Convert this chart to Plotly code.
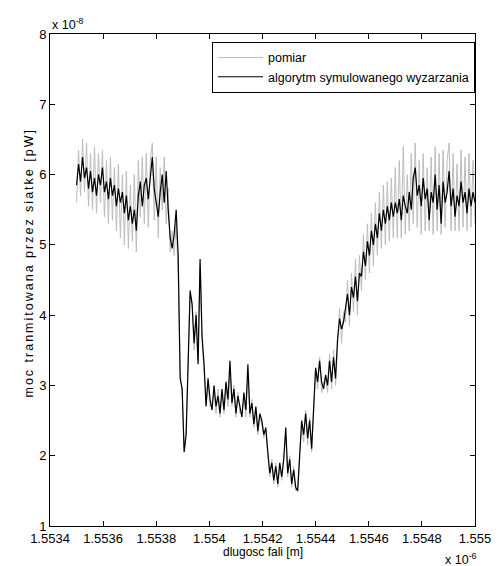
import numpy as np
import plotly.graph_objects as go

# wavelength grid in units of 1e-6 m (1.5535 .. 1.5550), 201 samples
wl_start = 1.5535
wl_end = 1.5550
n_pts = 201

# transmitted power, units of 1e-8 (black: simulated annealing fit)
algorytm = [
    5.85, 6.15, 5.9, 6.25, 5.95, 6.1, 5.8, 6.05, 5.75, 5.95,
    5.7, 6.0, 5.85, 6.1, 5.75, 5.9, 5.65, 5.95, 5.7, 5.85,
    5.55, 5.8, 5.6, 5.75, 5.45, 5.7, 5.35, 5.55, 5.3, 5.5,
    5.2, 5.7, 5.9, 5.55, 5.85, 5.95, 5.65, 6.0, 6.25, 5.8,
    5.6, 5.4, 5.75, 6.0, 5.6, 6.05, 5.5, 5.1, 4.95, 5.15,
    5.5, 4.85, 3.1, 2.95, 2.05, 2.3, 3.3, 4.35, 4.15, 3.6,
    4.0, 3.3, 4.8, 3.7, 3.3, 2.7, 3.1, 2.8, 2.65, 3.0,
    2.7, 2.85, 2.6, 2.95, 2.65, 3.05, 2.8, 3.35, 2.75, 2.95,
    2.6, 2.85, 2.7, 2.55, 2.9, 2.65, 3.3, 2.6, 2.75, 2.45,
    2.7, 2.35, 2.6, 2.5, 2.3, 2.4, 2.05, 1.75, 1.9, 1.65,
    1.85, 1.6, 1.9, 1.7, 1.95, 2.4, 1.75, 1.95, 1.6, 1.8,
    1.55, 1.5, 2.0, 2.5, 2.3, 2.6, 2.25, 2.5, 2.1, 2.65,
    3.25, 3.05, 3.35, 3.05, 2.95, 3.15, 3.0, 3.35, 3.05, 3.4,
    3.1, 3.65, 3.95, 3.8, 3.9, 4.1, 4.3, 4.0, 4.4, 4.25,
    4.55, 4.2, 4.6, 4.55, 4.9, 4.7, 5.05, 4.85, 5.2, 5.0,
    5.3, 5.1, 5.45, 5.2, 5.5, 5.3, 5.55, 5.35, 5.6, 5.4,
    5.6, 5.45, 5.65, 5.35, 5.7, 5.55, 5.45, 5.75, 5.5, 5.95,
    6.1, 5.7, 5.85, 5.55, 5.95, 5.65, 5.8, 5.35, 5.75, 5.6,
    6.0, 5.5, 5.85, 5.3, 5.9, 5.6, 5.75, 6.05, 5.55, 5.8,
    5.4, 5.7, 5.55, 5.9, 5.6, 5.75, 5.45, 5.8, 5.55, 5.75,
    5.6,
]

# measurement (grey)
pomiar = [
    5.6, 6.35, 5.7, 6.5, 5.75, 6.45, 5.55, 6.3, 5.5, 6.4,
    5.45, 6.3, 5.6, 6.35, 5.4, 6.2, 5.3, 6.25, 5.35, 6.1,
    5.2, 6.15, 5.1, 6.0, 5.0, 6.05, 4.95, 5.85, 5.05, 6.0,
    4.9, 6.2, 5.4, 6.25, 5.3, 6.3, 5.25, 6.2, 6.45, 5.35,
    6.25, 5.1, 6.1, 5.5, 6.25, 5.3, 5.8, 4.9, 5.2, 4.85,
    5.3, 4.6, 3.2, 2.9, 2.1, 2.4, 3.4, 4.3, 4.2, 3.5,
    4.05, 3.35, 4.7, 3.6, 3.2, 2.75, 3.05, 2.7, 2.75, 2.9,
    2.6, 2.95, 2.55, 2.9, 2.6, 3.0, 2.7, 3.2, 2.7, 3.0,
    2.55, 2.9, 2.6, 2.6, 2.8, 2.55, 3.15, 2.55, 2.8, 2.4,
    2.65, 2.3, 2.55, 2.45, 2.25, 2.35, 2.0, 1.7, 1.95, 1.6,
    1.9, 1.55, 1.85, 1.65, 2.0, 2.3, 1.7, 2.0, 1.55, 1.85,
    1.5, 1.55, 2.05, 2.4, 2.2, 2.65, 2.15, 2.55, 2.05, 2.7,
    3.2, 2.95, 3.4, 2.9, 3.05, 3.1, 2.9, 3.45, 2.95, 3.5,
    3.0, 3.55, 4.1, 3.6, 4.05, 3.9, 4.5, 3.85, 4.6, 4.05,
    4.8, 4.0, 4.85, 4.35, 5.15, 4.5, 5.3, 4.6, 5.45, 4.7,
    5.6, 4.85, 5.75, 4.95, 5.85, 5.0, 5.9, 5.05, 5.95, 5.1,
    6.1, 5.1, 6.2, 5.1, 6.4, 5.15, 6.0, 5.2, 6.3, 5.3,
    6.45, 5.25, 6.2, 5.15, 6.3, 5.2, 6.1, 5.2, 6.25, 5.15,
    6.4, 5.2, 6.3, 5.15, 6.35, 5.25, 6.2, 6.45, 5.2, 6.3,
    5.2, 6.15, 5.2, 6.35, 5.25, 6.25, 5.2, 6.3, 5.25, 6.2,
    5.3,
]

wavelength = np.linspace(wl_start, wl_end, n_pts)

x_tickvals = [1.5534, 1.5536, 1.5538, 1.5540, 1.5542, 1.5544, 1.5546, 1.5548, 1.5550]
x_ticktext = ["1.5534", "1.5536", "1.5538", "1.554", "1.5542", "1.5544", "1.5546", "1.5548", "1.555"]
y_tickvals = [1, 2, 3, 4, 5, 6, 7, 8]
y_ticktext = ["1", "2", "3", "4", "5", "6", "7", "8"]

FONT = "Liberation Sans, Arial, sans-serif"

fig = go.Figure()
fig.add_trace(go.Scatter(x=wavelength, y=pomiar, mode="lines", name="pomiar",
                         line=dict(color="#bdbdbd", width=1)))
fig.add_trace(go.Scatter(x=wavelength, y=algorytm, mode="lines",
                         name="algorytm symulowanego wyzarzania",
                         line=dict(color="black", width=1.2)))

axis_common = dict(showline=True, linecolor="black", linewidth=1, mirror="allticks",
                   ticks="inside", ticklen=5, tickcolor="black", showgrid=False,
                   zeroline=False, tickfont=dict(family=FONT, size=13, color="black"))

fig.update_layout(
    width=503, height=566,
    margin=dict(l=50, r=19, t=34, b=40),
    paper_bgcolor="white", plot_bgcolor="white",
    font=dict(family=FONT, size=12, color="black"),
    xaxis=dict(range=[1.5534, 1.5550], tickvals=x_tickvals, ticktext=x_ticktext, **axis_common),
    yaxis=dict(range=[1, 8], tickvals=y_tickvals, ticktext=y_ticktext, **axis_common),
    showlegend=True,
    legend=dict(x=1.0, xanchor="right", y=0.984, yanchor="top",
                bgcolor="white", bordercolor="black", borderwidth=1,
                font=dict(family=FONT, size=12.5, color="black"),
                tracegroupgap=0, itemwidth=45),
    annotations=[
        dict(text="dlugosc fali [m]", xref="paper", yref="paper", x=0.5, y=-0.035,
             xanchor="center", yanchor="top", showarrow=False,
             font=dict(family=FONT, size=12)),
        dict(text='<span style="letter-spacing:2px">moc tranmitowana przez siatke [pW]</span>',
             xref="paper", yref="paper",
             x=-0.05, y=0.535, xanchor="center", yanchor="middle", textangle=-90,
             showarrow=False, font=dict(family=FONT, size=12.5)),
        dict(text="x 10<sup>-8</sup>", xref="paper", yref="paper", x=0.0, y=1.0,
             xanchor="left", yanchor="bottom", showarrow=False,
             font=dict(family=FONT, size=12.5)),
        dict(text="x 10<sup>-6</sup>", xref="paper", yref="paper", x=1.01, y=-0.046,
             xanchor="right", yanchor="top", showarrow=False,
             font=dict(family=FONT, size=12.5)),
    ],
)

fig.write_html("out.html")
